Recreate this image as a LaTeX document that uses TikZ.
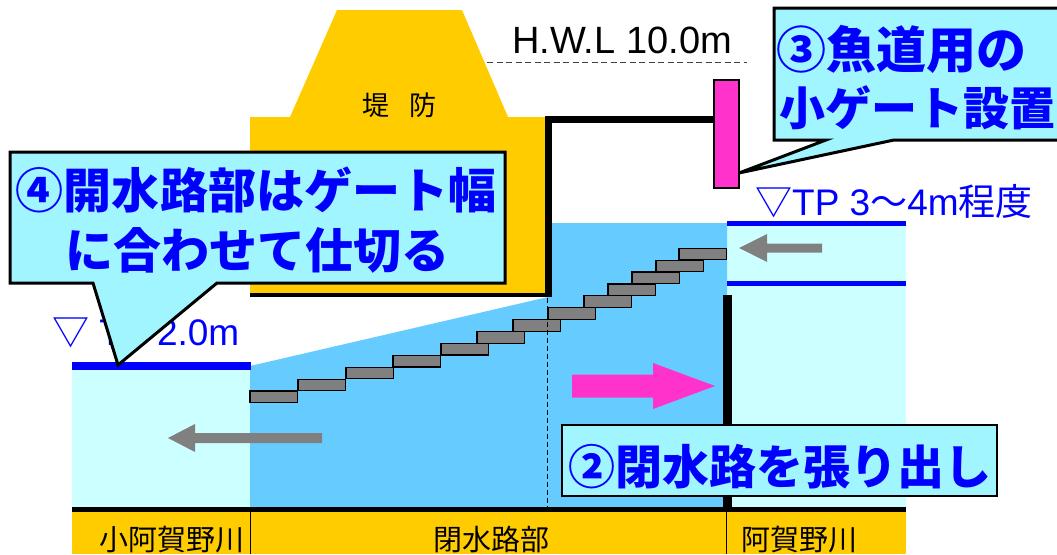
\documentclass[tikz,border=0pt]{standalone}
\usepackage{fontspec}
\setmainfont{Liberation Sans}
\newfontfamily\jp{Noto Sans CJK JP}
\usepackage{tikz}

\definecolor{dike}{HTML}{FFCC00}
\definecolor{water}{HTML}{66CCFF}
\definecolor{shallow}{HTML}{CCFFFF}
\definecolor{note}{HTML}{A0F5FF}
\definecolor{gatecol}{HTML}{FF33CC}
\definecolor{level}{HTML}{0000FF}
\definecolor{stone}{HTML}{808080}

\begin{document}
\begin{tikzpicture}[x=1pt,y=-1pt,
    notebox/.style={fill=note,draw=black,line width=3pt,line join=miter},
    notetext/.style={font=\jp\bfseries\fontsize{48}{48}\selectfont,text=level,inner sep=0pt,anchor=base},
    leveltext/.style={font=\fontsize{37}{37}\selectfont,text=level,inner sep=0pt,anchor=base west},
    rivername/.style={font=\jp\fontsize{29}{29}\selectfont,inner sep=0pt,anchor=base},
    stonebox/.style={fill=stone,draw=black,line width=1.2pt}]

      \useasboundingbox (0,0) rectangle (1057,554);

      % dike
      \fill[dike] (337,10) -- (462,10) -- (508,117) -- (290,117) -- cycle;
      \fill[dike] (250,117) rectangle (546,295);
      \node[font=\jp\fontsize{27}{27}\selectfont,inner sep=0pt,anchor=base] (dk) at (399.5,115) {堤\hspace{21pt}防};

      % water
      \fill[shallow] (72,366) rectangle (251,509);
      \fill[shallow] (727,223) rectangle (906,509);
      \fill[water] (250,366) -- (548,297) -- (548,223) -- (727,223) -- (727,509) -- (250,509) -- cycle;

      % fishway steps
      \foreach \x [count=\i from 0] in {250,298,346,393,441,477,513,548,584,608,632,656,679}{
        \path[stonebox] (\x,{391-11.9*\i}) rectangle ++(47.5,11.6);
      }

      % closed channel frame
      \draw[line width=7pt,line join=miter] (714,119) -- (548.5,119) -- (548.5,297);
      \draw[line width=4pt] (250,295) -- (552,295);
      \draw[line width=1pt,dash pattern=on 5pt off 3pt] (547,298) -- (547,507);
      \draw[line width=9pt] (727,295) -- (727,509);

      % gate
      \filldraw[fill=gatecol,draw=black,line width=2pt] (714,80) rectangle (739,188);

      % water levels
      \draw[level,line width=8pt] (72,366) -- (251,366);
      \draw[level,line width=4.5pt] (727,223.5) -- (906,223.5);
      \draw[level,line width=4.5pt] (727,283.5) -- (906,283.5);
      \node[leveltext] (tp2) at (52,345) {{\jp ▽} TP 2.0m};
      \node[leveltext] (tp3) at (755,215) {{\jp ▽}TP 3{\jp ～}4m{\jp 程度}};

      % high water level
      \draw[black!75,line width=1pt,dash pattern=on 6pt off 3.5pt] (487,62.5) -- (747,62.5);
      \node[font=\fontsize{38}{38}\selectfont,inner sep=0pt,anchor=base west] (hwl) at (512,53) {H.W.L 10.0m};

      % flow arrows
      \fill[stone] (168,438) -- (195,424) -- (195,433) -- (322,433) -- (322,443) -- (195,443) -- (195,452) -- cycle;
      \fill[stone] (739,248) -- (767,234) -- (767,243.5) -- (822,243.5) -- (822,252.5) -- (767,252.5) -- (767,262) -- cycle;
      \fill[gatecol] (715,386) -- (653,363) -- (653,374.5) -- (572,374.5) -- (572,397.5) -- (653,397.5) -- (653,409) -- cycle;

      % ground strip
      \fill[dike] (72,511) rectangle (906,554);
      \draw[line width=5pt] (72,509) -- (906,509);
      \draw[line width=0.8pt] (250.5,511) -- (250.5,554) (726.5,511) -- (726.5,554);
      \node[rivername] (r1) at (172,550) {小阿賀野川};
      \node[rivername] (r2) at (491,550) {閉水路部};
      \node[rivername] (r3) at (799,550) {阿賀野川};

      % note 3
      \path[notebox] (1060,8) -- (774,8) -- (774,140) -- (826,140) -- (739,173) -- (894,140) -- (1060,140);
      \node[notetext,anchor=base west,font=\jp\bfseries\fontsize{50}{50}\selectfont] (n3a) at (776,68) {③魚道用の};
      \node[notetext,anchor=base west,font=\jp\bfseries\fontsize{46}{46}\selectfont] (n3b) at (779,125) {小ゲート設置};

      % note 4
      \path[notebox] (10,152) -- (505,152) -- (505,283) -- (217,283) -- (118,365) -- (93,283) -- (10,283) -- cycle;
      \node[notetext] (n4a) at (256,208) {④開水路部はゲート幅};
      \node[notetext] (n4b) at (257,268) {に合わせて仕切る};

      % note 2
      \path[notebox,line width=2.5pt] (562,425) rectangle (997,496);
      \node[notetext,font=\jp\bfseries\fontsize{47}{47}\selectfont] (n2) at (779.5,484) {②閉水路を張り出し};

    \end{tikzpicture}
\end{document}
